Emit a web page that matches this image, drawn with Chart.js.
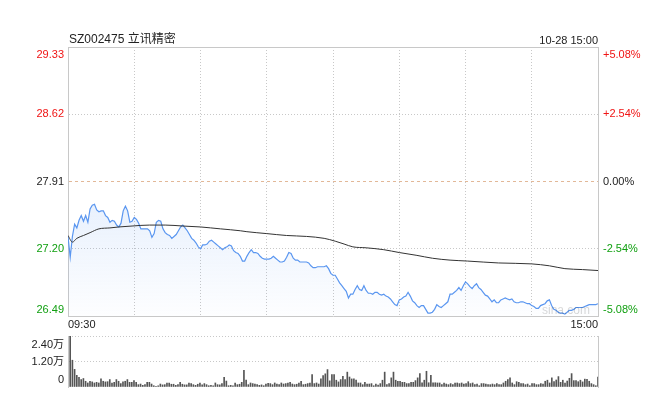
<!DOCTYPE html>
<html>
<head>
<meta charset="utf-8">
<script src="https://cdn.jsdelivr.net/npm/chart.js@4.4.0/dist/chart.umd.min.js"></script>
<style>
    html, body { margin: 0; padding: 0; background: #fff; }
    #wrap { position: relative; width: 670px; height: 399px; }
    #price { position: absolute; left: 0; top: 0; }
    #vol { position: absolute; left: 0; top: 330px; }
</style>
</head>
<body>
<div id="wrap">
    <canvas id="price" width="670" height="330"></canvas>
    <canvas id="vol" width="670" height="69"></canvas>
</div>
<script>
const stockTitle = 'SZ002475 立讯精密'
const stampText = '10-28 15:00'
const prevClose = 27.91
const priceTicks = [29.33, 28.62, 27.91, 27.20, 26.49]
const pctLabels = ['+5.08%', '+2.54%', '0.00%', '-2.54%', '-5.08%']
const timeTicks = [0, 30, 60, 90, 120, 150, 180, 210, 240]
const timeLabels = ['09:30', '15:00']
const volTicks = [24000, 12000, 0]
const volLabels = ['2.40万', '1.20万', '0']

// one value per minute, 09:30 .. 11:30 / 13:00 .. 15:00
const prices = [
    27.33, 27.11, 27.33, 27.46, 27.42, 27.50, 27.55, 27.49, 27.55, 27.48,
    27.62, 27.66, 27.67, 27.61, 27.59, 27.60, 27.60, 27.55, 27.53, 27.48,
    27.50, 27.49, 27.45, 27.43, 27.47, 27.60, 27.65, 27.60, 27.48, 27.49,
    27.53, 27.51, 27.47, 27.41, 27.41, 27.41, 27.41, 27.39, 27.32, 27.36,
    27.48, 27.50, 27.49, 27.41, 27.37, 27.35, 27.34, 27.31, 27.33, 27.35,
    27.39, 27.43, 27.45, 27.42, 27.39, 27.35, 27.31, 27.29, 27.26, 27.22,
    27.20,
    27.24, 27.24, 27.25, 27.28, 27.29, 27.27, 27.25, 27.23, 27.21, 27.19,
    27.21, 27.22, 27.24, 27.23, 27.18, 27.16, 27.15, 27.12, 27.07, 27.07,
    27.12, 27.16, 27.19, 27.16, 27.16, 27.15, 27.12, 27.10, 27.09, 27.09,
    27.09, 27.10, 27.12, 27.10, 27.08, 27.06, 27.06, 27.07, 27.11, 27.16,
    27.15, 27.10, 27.08, 27.08, 27.06, 27.06, 27.06, 27.06, 27.05, 27.02,
    27.00, 27.00, 27.01, 27.01, 27.01, 27.01, 27.02, 26.99, 26.94, 26.92,
    26.92, 26.88, 26.84, 26.81, 26.78, 26.75, 26.68, 26.72, 26.72, 26.77,
    26.81, 26.77, 26.76, 26.81, 26.76, 26.73, 26.73, 26.72, 26.74, 26.74,
    26.72, 26.71, 26.72, 26.70, 26.69, 26.67, 26.64, 26.61, 26.60, 26.66,
    26.67, 26.69, 26.70, 26.74, 26.70, 26.65, 26.63, 26.60, 26.58, 26.60,
    26.60, 26.56, 26.52, 26.52, 26.53, 26.56, 26.61, 26.59, 26.58, 26.60,
    26.62, 26.64, 26.72, 26.72, 26.74, 26.76, 26.79, 26.76, 26.81, 26.85,
    26.83, 26.80, 26.78, 26.81, 26.83, 26.79, 26.77, 26.74, 26.71, 26.70,
    26.67, 26.64, 26.66, 26.63, 26.63, 26.66, 26.67, 26.68, 26.67, 26.66,
    26.67, 26.64, 26.63, 26.63, 26.64, 26.64, 26.63, 26.62, 26.62, 26.60,
    26.59, 26.57, 26.57, 26.60, 26.61, 26.62, 26.65, 26.66, 26.60, 26.56,
    26.55, 26.53, 26.52, 26.52, 26.51, 26.53, 26.55, 26.55, 26.56, 26.58,
    26.58, 26.58, 26.58, 26.59, 26.60, 26.61, 26.61, 26.61, 26.61, 26.62
]

// average price line, read at these minutes
const avgMinutes = [0, 2, 4, 7, 10, 14, 19, 23, 29, 37, 44, 52, 60, 69, 78, 81, 90, 99, 108, 116,
    121, 125, 129, 135, 143, 150, 158, 165, 173, 181, 195, 210, 218, 225, 233, 240]
const avgPrices = [27.34, 27.27, 27.31, 27.34, 27.37, 27.41, 27.42, 27.43, 27.44, 27.45, 27.45, 27.44, 27.43, 27.41, 27.39, 27.38, 27.36, 27.34, 27.33, 27.31,
    27.28, 27.25, 27.22, 27.21, 27.19, 27.16, 27.13, 27.10, 27.08, 27.07, 27.05, 27.04, 27.02, 26.99, 26.98, 26.97]

const volumes = [
    24000, 12600, 8300, 5500, 4600, 3500, 4000, 2700, 1900, 2700,
    2400, 1900, 2200, 1900, 3800, 2700, 2400, 2500, 3500, 1900,
    2200, 3500, 2700, 1600, 2400, 2700, 3500, 2200, 2200, 3000,
    2200, 1100, 1400, 800, 1100, 2200, 2200, 1400, 600, 300,
    600, 1400, 1000, 1100, 1900, 1900, 1300, 1300, 800, 1100,
    2200, 1300, 1000, 1000, 1900, 1600, 1100, 800, 1300, 1900,
    1000, 1600, 1100, 600, 800, 600, 1900, 1100, 1000, 1600,
    4600, 2800, 600, 800, 600, 1900, 1100, 1300, 2200, 7900,
    3200, 1100, 1900, 1600, 1400, 1100, 800, 1000, 600, 1400,
    1700, 1600, 1100, 1900, 1400, 1100, 1900, 1400, 1600, 1900,
    2200, 1400, 1100, 1300, 1900, 2700, 1100, 1300, 1600, 1900,
    5800, 1600, 1900, 1400, 3800, 5400, 6200, 8200, 2900, 5800,
    5800,
    3200, 2400, 3500, 5000, 3500, 7000, 4700, 3800, 3800, 3200,
    1900, 1900, 1100, 2200, 1400, 1400, 1600, 600, 1400, 900,
    1600, 3200, 7000, 1100, 1600, 4300, 7000, 3200, 2700, 2700,
    2200, 2200, 1600, 1600, 2200, 2200, 3000, 4300, 6300, 2000,
    3200, 7400, 2000, 5500, 2000, 2000, 1900, 1900, 1100, 1900,
    1400, 1100, 1600, 1100, 1900, 1900, 1600, 1900, 1400, 1600,
    2500, 1600, 1900, 1100, 1400, 600, 1600, 1600, 1400, 1100,
    1100, 1400, 1100, 1600, 1100, 1100, 1900, 2700, 3500, 4300,
    1900, 1100, 2500, 2200, 1600, 1600, 1100, 1400, 600, 1600,
    1600, 1100, 1100, 1600, 1400, 2700, 3200, 1900, 4300, 2500,
    3300, 4900, 2200, 3200, 1900, 2800, 4100, 6300, 3000, 3000,
    2500, 3200, 2400, 3700, 3600, 2700, 1600, 1100, 600, 4700
]

const FONT = "'Liberation Sans', 'Noto Sans CJK SC', Arial, sans-serif"
const RED = '#f01414'
const GREEN = '#12a012'
const TEXT = '#222'
const GRID = '#c8c8c8'
const BLUE = '#5a96f0'

const upDown = v => v > prevClose ? RED : (v < prevClose ? GREEN : TEXT)

const priceLabels = {
    id: 'priceLabels',
    afterDraw(chart) {
        const { ctx, chartArea, scales } = chart
        ctx.save()
        ctx.textBaseline = 'middle'
        ctx.font = '12px ' + FONT
        ctx.fillStyle = TEXT
        ctx.textAlign = 'left'
        ctx.fillText(stockTitle, chartArea.left + 1, 40)
        ctx.font = '11px ' + FONT
        ctx.textAlign = 'right'
        ctx.fillText(stampText, chartArea.right, 41)

        priceTicks.forEach((v, i) => {
            let y = scales.y.getPixelForValue(v)
            if (i === 0) y += 8
            if (i === priceTicks.length - 1) y -= 6
            ctx.fillStyle = upDown(v)
            ctx.textAlign = 'right'
            ctx.fillText(v.toFixed(2), chartArea.left - 4, y)
            ctx.textAlign = 'left'
            ctx.fillText(pctLabels[i], chartArea.right + 5, y)
        })

        ctx.fillStyle = TEXT
        const ty = chartArea.bottom + 9
        ctx.textAlign = 'left'
        ctx.fillText(timeLabels[0], scales.x.getPixelForValue(0), ty)
        ctx.textAlign = 'right'
        ctx.fillText(timeLabels[1], scales.x.getPixelForValue(240), ty)

        ctx.font = '12px ' + FONT
        ctx.fillStyle = 'rgba(0,0,0,0.16)'
        ctx.fillText('sina.com', chartArea.right - 8, chartArea.bottom - 5)
        ctx.restore()
    }
}

const volLabelsPlugin = {
    id: 'volLabels',
    afterDraw(chart) {
        const { ctx, chartArea, scales } = chart
        ctx.save()
        ctx.textBaseline = 'middle'
        ctx.font = '11px ' + FONT
        ctx.fillStyle = TEXT
        ctx.textAlign = 'right'
        volTicks.forEach((v, i) => {
            let y = scales.y.getPixelForValue(v)
            if (i === 0) y += 9
            if (i === volTicks.length - 1) y -= 7
            ctx.fillText(volLabels[i], chartArea.left - 4, y)
        })
        ctx.restore()
    }
}

const edge = (ticks, v) => v === ticks[0] || v === ticks[ticks.length - 1]

new Chart(document.getElementById('price'), {
    type: 'line',
    data: {
        datasets: [{
            label: '均价',
            data: avgMinutes.map((m, i) => ({ x: m, y: avgPrices[i] })),
            borderColor: '#333',
            borderWidth: 1,
            pointRadius: 0,
            cubicInterpolationMode: 'monotone',
            fill: false
        }, {
            label: '价格',
            data: prices.map((p, i) => ({ x: i, y: p })),
            borderColor: BLUE,
            borderWidth: 1.2,
            pointRadius: 0,
            fill: 'start',
            backgroundColor: c => {
                const area = c.chart.chartArea
                if (!area) return 'rgba(90,150,240,0.08)'
                const g = c.chart.ctx.createLinearGradient(0, area.top + 150, 0, area.bottom)
                g.addColorStop(0, 'rgba(90,150,240,0.14)')
                g.addColorStop(1, 'rgba(90,150,240,0.01)')
                return g
            }
        }]
    },
    options: {
        responsive: false,
        animation: false,
        events: [],
        layout: { padding: { left: 68, right: 72, top: 47, bottom: 14 } },
        plugins: { legend: { display: false }, tooltip: { enabled: false } },
        scales: {
            x: {
                type: 'linear', min: 0, max: 240,
                ticks: { display: false },
                afterBuildTicks: s => { s.ticks = timeTicks.map(v => ({ value: v })) },
                grid: { drawTicks: false, color: c => c.tick && edge(timeTicks, c.tick.value) ? 'rgba(0,0,0,0)' : GRID },
                border: { color: GRID, dash: c => c.tick ? [1, 2] : [] }
            },
            x2: {
                type: 'linear', position: 'top', min: 0, max: 240,
                ticks: { display: false },
                grid: { drawTicks: false, drawOnChartArea: false },
                border: { color: GRID }
            },
            y: {
                min: priceTicks[priceTicks.length - 1], max: priceTicks[0],
                ticks: { display: false },
                afterBuildTicks: s => { s.ticks = priceTicks.map(v => ({ value: v })) },
                grid: {
                    drawTicks: false,
                    color: c => {
                        if (!c.tick || edge(priceTicks, c.tick.value)) return 'rgba(0,0,0,0)'
                        return c.tick.value === prevClose ? '#e2b898' : GRID
                    }
                },
                border: { color: GRID, dash: c => !c.tick ? [] : (c.tick.value === prevClose ? [3, 3] : [1, 2]) }
            },
            y2: {
                position: 'right', min: 0, max: 1,
                ticks: { display: false },
                grid: { drawTicks: false, drawOnChartArea: false },
                border: { color: GRID }
            }
        }
    },
    plugins: [priceLabels]
})

new Chart(document.getElementById('vol'), {
    type: 'bar',
    data: {
        datasets: [{
            label: '成交量',
            data: volumes.map((v, i) => ({ x: i, y: v })),
            backgroundColor: '#555',
            borderWidth: 0,
            barThickness: 1
        }]
    },
    options: {
        responsive: false,
        animation: false,
        events: [],
        layout: { padding: { left: 68, right: 72, top: 6, bottom: 12 } },
        plugins: { legend: { display: false }, tooltip: { enabled: false } },
        scales: {
            x: { type: 'linear', min: -1, max: 240, offset: false, display: false, grid: { offset: false } },
            y: {
                min: 0, max: volTicks[0],
                ticks: { display: false },
                afterBuildTicks: s => { s.ticks = volTicks.map(v => ({ value: v })) },
                grid: { drawTicks: false, color: c => c.tick && c.tick.value === 0 ? 'rgba(0,0,0,0)' : GRID },
                border: { color: GRID, dash: c => c.tick ? [1, 2] : [] }
            },
            y2: {
                position: 'right', min: 0, max: 1,
                ticks: { display: false },
                grid: { drawTicks: false, drawOnChartArea: false },
                border: { color: GRID }
            }
        }
    },
    plugins: [volLabelsPlugin]
})
</script>
</body>
</html>
